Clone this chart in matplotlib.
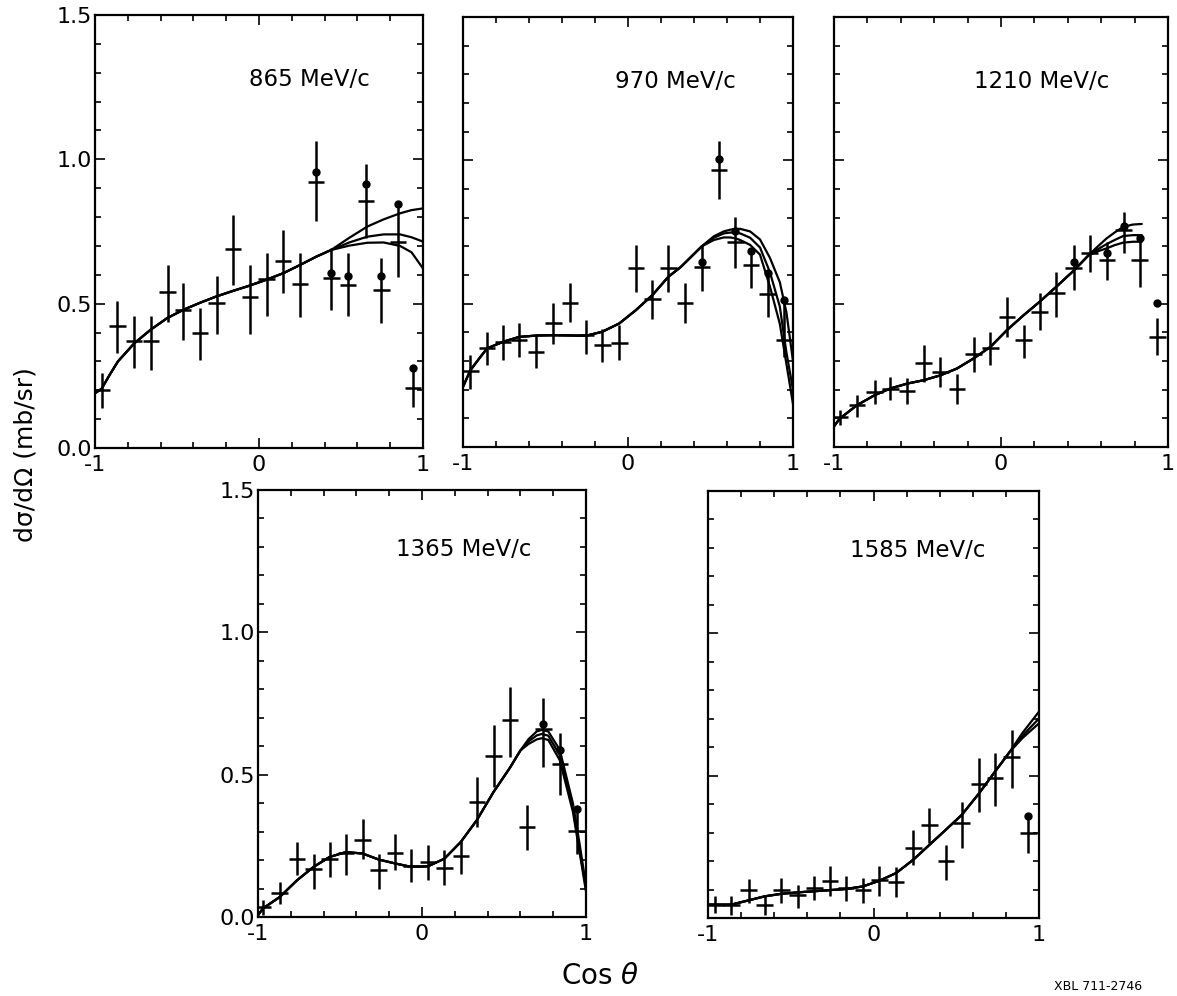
import numpy as np
import matplotlib
matplotlib.use("Agg")
import matplotlib.pyplot as plt
from matplotlib.ticker import MultipleLocator

plt.rcParams['font.family'] = ['DejaVu Sans']

W, H = 1177, 996

# ---------------- data: measured points ----------------
# cos(theta) bin centres, cross-bar value, error bar low / high, extra dot (nan = none)
p865_x = [-0.959, -0.864, -0.762, -0.659, -0.557, -0.462, -0.360, -0.259, -0.157, -0.056,
          0.046, 0.147, 0.249, 0.346, 0.442, 0.543, 0.651, 0.746, 0.848, 0.939]
p865_y = [0.202, 0.421, 0.369, 0.369, 0.539, 0.479, 0.398, 0.502, 0.689, 0.522,
          0.585, 0.648, 0.569, 0.923, 0.588, 0.565, 0.854, 0.548, 0.712, 0.208]
p865_lo = [0.138, 0.329, 0.277, 0.271, 0.438, 0.375, 0.306, 0.395, 0.565, 0.395,
           0.456, 0.537, 0.453, 0.785, 0.477, 0.456, 0.727, 0.433, 0.594, 0.142]
p865_hi = [0.260, 0.508, 0.456, 0.458, 0.635, 0.573, 0.485, 0.597, 0.808, 0.635,
           0.675, 0.756, 0.675, 1.065, 0.692, 0.675, 0.983, 0.658, 0.846, 0.277]
p865_dot = [np.nan] * 13 + [0.955, 0.606, 0.597, 0.914, 0.597, 0.846, 0.277]

p970_x = [-0.955, -0.854, -0.757, -0.660, -0.559, -0.453, -0.352, -0.255, -0.156, -0.053,
          0.047, 0.148, 0.245, 0.346, 0.447, 0.551, 0.650, 0.745, 0.846, 0.947]
p970_y = [0.266, 0.344, 0.367, 0.375, 0.332, 0.433, 0.503, 0.390, 0.355, 0.363,
          0.623, 0.515, 0.623, 0.503, 0.629, 0.967, 0.716, 0.635, 0.533, 0.373]
p970_lo = [0.204, 0.285, 0.303, 0.314, 0.274, 0.361, 0.437, 0.326, 0.297, 0.303,
           0.542, 0.445, 0.542, 0.433, 0.544, 0.864, 0.623, 0.553, 0.454, 0.314]
p970_hi = [0.320, 0.402, 0.425, 0.433, 0.390, 0.503, 0.571, 0.443, 0.413, 0.425,
           0.705, 0.582, 0.705, 0.571, 0.701, 1.069, 0.804, 0.693, 0.606, 0.512]
p970_dot = [np.nan] * 14 + [0.646, 1.006, 0.754, 0.685, 0.606, 0.512]

p1210_x = [-0.966, -0.862, -0.756, -0.663, -0.563, -0.463, -0.363, -0.263, -0.164, -0.064,
           0.036, 0.136, 0.232, 0.331, 0.435, 0.531, 0.635, 0.734, 0.830, 0.936]
p1210_y = [0.105, 0.146, 0.192, 0.204, 0.196, 0.293, 0.262, 0.204, 0.326, 0.344,
           0.454, 0.373, 0.472, 0.536, 0.623, 0.675, 0.652, 0.757, 0.652, 0.385]
p1210_lo = [0.076, 0.105, 0.151, 0.163, 0.151, 0.227, 0.210, 0.149, 0.262, 0.285,
            0.384, 0.309, 0.408, 0.454, 0.547, 0.611, 0.582, 0.675, 0.559, 0.320]
p1210_hi = [0.128, 0.181, 0.233, 0.245, 0.239, 0.355, 0.314, 0.256, 0.384, 0.402,
            0.524, 0.425, 0.536, 0.611, 0.705, 0.740, 0.716, 0.821, 0.734, 0.450]
p1210_dot = [np.nan] * 14 + [0.646, np.nan, 0.675, 0.771, 0.728, 0.503]

p1365_x = [-0.970, -0.868, -0.762, -0.661, -0.563, -0.464, -0.362, -0.265, -0.163, -0.066,
           0.036, 0.137, 0.237, 0.334, 0.436, 0.537, 0.639, 0.740, 0.842, 0.943]
p1365_y = [0.035, 0.084, 0.202, 0.170, 0.205, 0.225, 0.272, 0.166, 0.225, 0.178,
           0.193, 0.173, 0.213, 0.404, 0.565, 0.691, 0.316, 0.662, 0.539, 0.302]
p1365_lo = [0.006, 0.047, 0.146, 0.100, 0.141, 0.146, 0.205, 0.100, 0.164, 0.123,
            0.129, 0.111, 0.152, 0.316, 0.457, 0.563, 0.234, 0.527, 0.428, 0.223]
p1365_hi = [0.059, 0.123, 0.264, 0.223, 0.264, 0.293, 0.346, 0.223, 0.293, 0.240,
            0.252, 0.234, 0.270, 0.492, 0.674, 0.809, 0.393, 0.768, 0.645, 0.387]
p1365_dot = [np.nan] * 17 + [0.677, 0.588, 0.381]

p1585_x = [-0.956, -0.859, -0.755, -0.658, -0.557, -0.459, -0.358, -0.262, -0.165, -0.064,
           0.036, 0.137, 0.241, 0.338, 0.437, 0.533, 0.638, 0.734, 0.835, 0.936]
p1585_y = [0.047, 0.047, 0.097, 0.047, 0.097, 0.082, 0.105, 0.129, 0.105, 0.097,
           0.134, 0.125, 0.246, 0.327, 0.199, 0.333, 0.471, 0.491, 0.565, 0.298]
p1585_lo = [0.018, 0.012, 0.053, 0.012, 0.053, 0.035, 0.064, 0.076, 0.058, 0.053,
            0.076, 0.074, 0.187, 0.263, 0.134, 0.246, 0.374, 0.394, 0.456, 0.228]
p1585_hi = [0.076, 0.076, 0.137, 0.076, 0.140, 0.117, 0.146, 0.181, 0.146, 0.140,
            0.181, 0.179, 0.310, 0.386, 0.257, 0.409, 0.561, 0.579, 0.661, 0.368]
p1585_dot = [np.nan] * 19 + [0.359]

# ---------------- data: fitted curves (common part + three branches) ----------------
c865_x = [-1.0, -0.96, -0.91, -0.86, -0.76, -0.66, -0.56, -0.46, -0.36, -0.26, -0.16, -0.06,
          0.05, 0.15, 0.25, 0.35, 0.44]
c865_y = [0.19, 0.205, 0.254, 0.30, 0.363, 0.41, 0.45, 0.479, 0.503, 0.525, 0.544, 0.562,
          0.584, 0.606, 0.634, 0.663, 0.686]
c865_tx = [0.55, 0.66, 0.76, 0.86, 0.93, 1.0]
c865_top = [0.728, 0.767, 0.792, 0.813, 0.824, 0.830]
c865_mid = [0.712, 0.732, 0.740, 0.740, 0.730, 0.715]
c865_low = [0.701, 0.711, 0.712, 0.700, 0.678, 0.622]

c970_x = [-1.0, -0.955, -0.90, -0.854, -0.757, -0.66, -0.55, -0.45, -0.35, -0.255, -0.156,
          -0.053, 0.047, 0.148, 0.245, 0.32, 0.447]
c970_y = [0.21, 0.268, 0.31, 0.344, 0.367, 0.384, 0.389, 0.39, 0.389, 0.388, 0.402,
          0.431, 0.477, 0.53, 0.594, 0.628, 0.70]
c970_tx = [0.52, 0.58, 0.62, 0.65, 0.68, 0.74, 0.80, 0.86, 0.92, 0.96, 1.0]
c970_top = [0.735, 0.752, 0.758, 0.761, 0.761, 0.752, 0.724, 0.66, 0.575, 0.47, 0.30]
c970_mid = [0.730, 0.745, 0.748, 0.748, 0.745, 0.730, 0.696, 0.61, 0.49, 0.33, 0.20]
c970_low = [0.722, 0.731, 0.731, 0.728, 0.722, 0.705, 0.671, 0.56, 0.43, 0.29, 0.15]

c1210_x = [-1.0, -0.966, -0.862, -0.756, -0.663, -0.563, -0.463, -0.363, -0.263, -0.164,
           -0.064, 0.036, 0.136, 0.232, 0.331, 0.435, 0.523]
c1210_y = [0.072, 0.099, 0.146, 0.181, 0.204, 0.221, 0.233, 0.25, 0.274, 0.309,
           0.349, 0.408, 0.46, 0.507, 0.559, 0.615, 0.668]
c1210_tx = [0.58, 0.633, 0.68, 0.732, 0.79, 0.843]
c1210_top = [0.700, 0.728, 0.748, 0.768, 0.776, 0.778]
c1210_mid = [0.690, 0.708, 0.722, 0.736, 0.739, 0.739]
c1210_low = [0.683, 0.693, 0.704, 0.713, 0.716, 0.716]

c1365_x = [-1.0, -0.97, -0.868, -0.762, -0.661, -0.563, -0.464, -0.362, -0.265, -0.163,
           -0.066, 0.036, 0.137, 0.237, 0.334, 0.436, 0.537, 0.60]
c1365_y = [0.006, 0.03, 0.07, 0.129, 0.176, 0.211, 0.228, 0.223, 0.202, 0.188,
           0.176, 0.178, 0.205, 0.264, 0.34, 0.439, 0.525, 0.585]
c1365_tx = [0.65, 0.70, 0.73, 0.77, 0.84, 0.92, 0.96, 1.0]
c1365_top = [0.625, 0.652, 0.657, 0.652, 0.587, 0.40, 0.26, 0.11]
c1365_mid = [0.617, 0.638, 0.643, 0.637, 0.569, 0.385, 0.245, 0.10]
c1365_low = [0.608, 0.624, 0.628, 0.622, 0.551, 0.37, 0.23, 0.09]

c1585_x = [-1.0, -0.859, -0.755, -0.658, -0.557, -0.459, -0.358, -0.165, -0.064, 0.036,
           0.137, 0.241, 0.338, 0.437, 0.533, 0.638, 0.734, 0.825]
c1585_y = [0.047, 0.047, 0.062, 0.076, 0.085, 0.09, 0.094, 0.102, 0.111, 0.131,
           0.158, 0.205, 0.257, 0.31, 0.362, 0.438, 0.514, 0.585]
c1585_tx = [0.9, 1.0]
c1585_top = [0.650, 0.725]
c1585_mid = [0.640, 0.701]
c1585_low = [0.632, 0.684]

panel_labels = ['865 MeV/c', '970 MeV/c', '1210 MeV/c', '1365 MeV/c', '1585 MeV/c']
ytick_vals = [0.0, 0.5, 1.0, 1.5]
ytick_text = ['0.0', '0.5', '1.0', '1.5']
xtick_vals = [-1, 0, 1]
xtick_text = ['-1', '0', '1']

panels = [
    (p865_x, p865_y, p865_lo, p865_hi, p865_dot, c865_x, c865_y, c865_tx, [c865_top, c865_mid, c865_low]),
    (p970_x, p970_y, p970_lo, p970_hi, p970_dot, c970_x, c970_y, c970_tx, [c970_top, c970_mid, c970_low]),
    (p1210_x, p1210_y, p1210_lo, p1210_hi, p1210_dot, c1210_x, c1210_y, c1210_tx, [c1210_top, c1210_mid, c1210_low]),
    (p1365_x, p1365_y, p1365_lo, p1365_hi, p1365_dot, c1365_x, c1365_y, c1365_tx, [c1365_top, c1365_mid, c1365_low]),
    (p1585_x, p1585_y, p1585_lo, p1585_hi, p1585_dot, c1585_x, c1585_y, c1585_tx, [c1585_top, c1585_mid, c1585_low]),
]

# axes boxes in pixels: left, top, right, bottom
boxes = [(95, 15, 423, 448), (463, 17, 793, 447), (834, 17, 1168, 447),
         (258, 490, 586, 917), (708, 491, 1039, 918)]
label_pos = [(0.47, 0.85), (0.46, 0.85), (0.42, 0.85), (0.42, 0.86), (0.43, 0.86)]
show_ylabels = [True, False, False, True, False]


def frac(box):
    l, t, r, b = box
    return [l / W, 1 - b / H, (r - l) / W, (b - t) / H]


fig = plt.figure(figsize=(W / 100, H / 100), dpi=100)

for i, (px, py, plo, phi, pdot, cx, cy, tx, branches) in enumerate(panels):
    ax = fig.add_axes(frac(boxes[i]))
    px = np.array(px)
    py = np.array(py)
    yerr = [py - np.array(plo), np.array(phi) - py]
    ax.errorbar(px, py, yerr=yerr, xerr=0.05, fmt='none', ecolor='black',
                elinewidth=1.8, capsize=0)
    ax.plot(px, pdot, 'o', color='black', ms=5)

    for br in branches:
        ax.plot(list(cx) + list(tx), list(cy) + list(br), color='black', lw=1.6,
                solid_capstyle='round')

    ax.set_xlim(-1, 1)
    ax.set_ylim(0, 1.5)
    ax.xaxis.set_minor_locator(MultipleLocator(0.2))
    ax.yaxis.set_minor_locator(MultipleLocator(0.1))
    ax.set_xticks(xtick_vals)
    ax.set_xticklabels(xtick_text, fontsize=16)
    ax.set_yticks(ytick_vals)
    if show_ylabels[i]:
        ax.set_yticklabels(ytick_text, fontsize=16)
    else:
        ax.set_yticklabels([])
    ax.tick_params(which='both', direction='in', top=True, right=True, width=1.2)
    ax.tick_params(which='major', length=7, pad=5)
    ax.tick_params(which='minor', length=4)
    ax.tick_params(axis='y', pad=2)
    for sp in ax.spines.values():
        sp.set_linewidth(1.6)

    ax.text(label_pos[i][0], label_pos[i][1], panel_labels[i], transform=ax.transAxes,
            fontsize=16.5, va='center', ha='left')

fig.text(26 / W, 1 - 455 / H, 'dσ/dΩ (mb/sr)', rotation=90,
         fontsize=18, ha='center', va='center')
fig.text(600 / W, 1 - 976 / H, r'Cos $\theta$', fontsize=20, ha='center', va='center')
fig.text(1098 / W, 1 - 986 / H, 'XBL 711-2746', fontsize=9, ha='center', va='center')

fig.savefig('out.png', dpi=100)
